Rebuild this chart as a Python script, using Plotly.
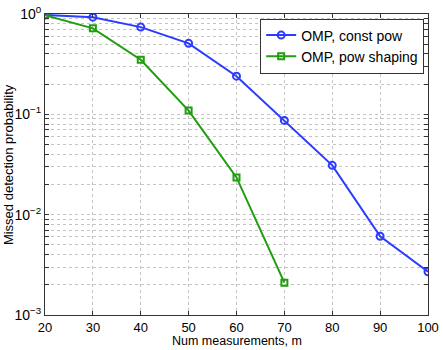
import plotly.graph_objects as go

m = [20, 30, 40, 50, 60, 70, 80, 90, 100]
const_pow = [0.98, 0.93, 0.74, 0.51, 0.24, 0.087, 0.031, 0.0061, 0.0027]
m_shaping = [20, 30, 40, 50, 60, 70]
pow_shaping = [0.97, 0.72, 0.35, 0.109, 0.0235, 0.0021]

decades = [1e-3, 1e-2, 1e-1]
decade_labels = {1e-3: "10<sup>\u22123</sup>", 1e-2: "10<sup>\u22122</sup>",
                 1e-1: "10<sup>\u22121</sup>", 1: "10<sup>0</sup>"}

# major + minor positions on the log axis, labels only on decades
ytick_vals = []
ytick_text = []
for d in decades:
    for k in range(1, 10):
        ytick_vals.append(d * k)
        ytick_text.append(decade_labels[d] if k == 1 else "")
ytick_vals.append(1)
ytick_text.append(decade_labels[1])

fig = go.Figure()
fig.add_trace(go.Scatter(
    x=m, y=const_pow, mode="lines+markers", name="OMP, const pow",
    line=dict(color="#2b3bff", width=2),
    marker=dict(symbol="circle-open", size=7, color="#2b3bff", line=dict(width=2)),
))
fig.add_trace(go.Scatter(
    x=m_shaping, y=pow_shaping, mode="lines+markers", name="OMP, pow shaping",
    line=dict(color="#1f9e0f", width=2),
    marker=dict(symbol="square-open", size=6, color="#1f9e0f", line=dict(width=2)),
))

axis_common = dict(
    showline=True, linecolor="#333", linewidth=1, mirror="ticks",
    ticks="inside", ticklen=4, tickcolor="#333",
    showgrid=True, gridcolor="#c4c4c4", griddash="dot", gridwidth=1,
    zeroline=False, automargin=False,
)

fig.update_xaxes(
    range=[20, 100], tickvals=m, tickfont=dict(size=13, color="black"),
    **axis_common,
)
fig.update_yaxes(
    type="log", range=[-3, 0], tickvals=ytick_vals, ticktext=ytick_text,
    tickfont=dict(size=14, color="black"), **axis_common,
)

fig.update_layout(
    width=443, height=350,
    margin=dict(l=45, r=15, t=14, b=35),
    paper_bgcolor="white", plot_bgcolor="white",
    font=dict(family="Liberation Sans, Arial, sans-serif", color="black"),
    showlegend=True,
    legend=dict(
        x=0.99, y=0.985, xanchor="right", yanchor="top",
        bgcolor="white", bordercolor="#333", borderwidth=1,
        font=dict(size=14), tracegroupgap=0, itemwidth=30,
    ),
    annotations=[
        dict(text="Num measurements, m", xref="paper", yref="paper",
             x=0.5, y=-0.116, xanchor="center", yanchor="bottom",
             showarrow=False, font=dict(size=12.5)),
        dict(text="Missed detection probability", xref="paper", yref="paper",
             x=-0.095, y=0.5, xanchor="center", yanchor="middle", textangle=-90,
             showarrow=False, font=dict(size=13)),
    ],
)

fig.write_html("out.html", config={"displayModeBar": False},
               post_script="document.body.style.margin='0';")
